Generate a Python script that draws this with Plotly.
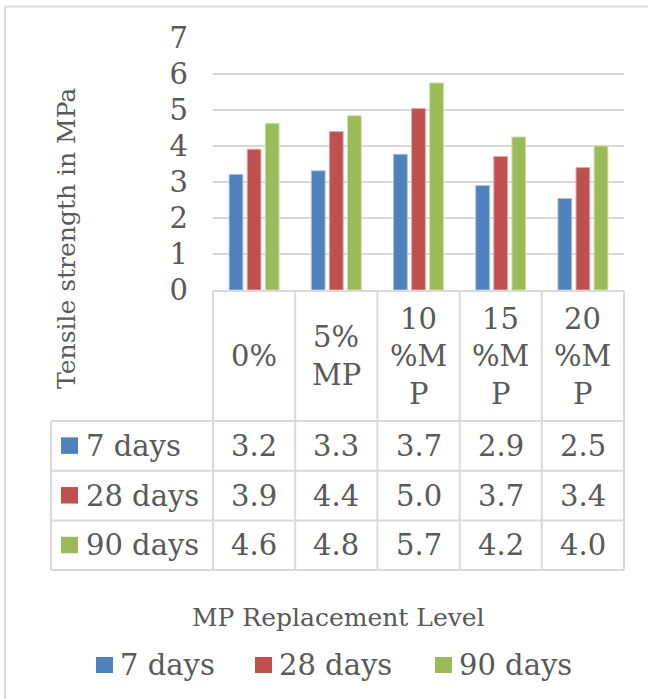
import plotly.graph_objects as go

# ---------------- data ----------------
categories = ["0%", "5% MP", "10 %MP", "15 %MP", "20 %MP"]
header_lines = [["0%"], ["5%", "MP"], ["10", "%M", "P"], ["15", "%M", "P"], ["20", "%M", "P"]]
series_names = ["7 days", "28 days", "90 days"]
days7 = [3.21, 3.31, 3.77, 2.90, 2.54]
days28 = [3.91, 4.40, 5.04, 3.71, 3.40]
days90 = [4.63, 4.84, 5.75, 4.25, 4.00]
table7 = ["3.2", "3.3", "3.7", "2.9", "2.5"]
table28 = ["3.9", "4.4", "5.0", "3.7", "3.4"]
table90 = ["4.6", "4.8", "5.7", "4.2", "4.0"]
y_ticks = [0, 1, 2, 3, 4, 5, 6, 7]
y_title = "Tensile strength in MPa"
x_title = "MP Replacement Level"

# ---------------- style ----------------
colors = ["#4F81BD", "#C0504D", "#9BBB59"]
outline = ["#A9C1DE", "#DFA8A6", "#CDDDAC"]
TXT = "#595959"
GRID = "#D9D9D9"
FONT = "DejaVu Serif"
W, H = 648, 699
PL, PR, PT, PB = 213, 624, 38, 290
TABLE_L = 51
HEAD_B = 421
ROW_H = 49.7
LINE_SP = 37.5

def px(x):
    return x / W

def py(y):
    return 1 - y / H

series_vals = [days7, days28, days90]
table_vals = [table7, table28, table90]

fig = go.Figure()
for name, vals, c, oc in zip(series_names, series_vals, colors, outline):
    fig.add_trace(go.Bar(x=categories, y=vals, name=name,
                         marker=dict(color=c, line=dict(color=oc, width=1)),
                         showlegend=False, hoverinfo="x+y+name"))

shapes = []
annotations = []
ncat = len(categories)
colw = (PR - PL) / ncat
col_x = [PL + i * colw for i in range(ncat + 1)]
row_y = [HEAD_B + i * ROW_H for i in range(len(series_names) + 1)]

def line(x0, y0, x1, y1):
    shapes.append(dict(type="line", xref="paper", yref="paper",
                       x0=px(x0), y0=py(y0), x1=px(x1), y1=py(y1),
                       line=dict(color=GRID, width=2)))

# table grid
line(PL, PB + 1, PR, PB + 1)
for yy in row_y:
    line(TABLE_L, yy, PR, yy)
for xx in col_x:
    line(xx, PB + 1, xx, row_y[-1])
line(TABLE_L, HEAD_B, TABLE_L, row_y[-1])

# header text
head_c = (PB + 1 + HEAD_B) / 2
for i, lines in enumerate(header_lines):
    cx = (col_x[i] + col_x[i + 1]) / 2
    n = len(lines)
    for j, t in enumerate(lines):
        yy = head_c + (j - (n - 1) / 2) * LINE_SP
        annotations.append(dict(x=px(cx), y=py(yy), xref="paper", yref="paper",
                                text=t, showarrow=False, xanchor="center", yanchor="middle",
                                font=dict(family=FONT, size=29, color=TXT)))

# rows
for r, (name, vals, c) in enumerate(zip(series_names, table_vals, colors)):
    cy = (row_y[r] + row_y[r + 1]) / 2
    shapes.append(dict(type="rect", xref="paper", yref="paper",
                       x0=px(61), x1=px(78), y0=py(cy - 8.5), y1=py(cy + 8),
                       fillcolor=c, line=dict(width=0)))
    annotations.append(dict(x=px(84), y=py(cy), xref="paper", yref="paper",
                            text=name, showarrow=False, xanchor="left", yanchor="middle",
                            font=dict(family=FONT, size=29, color=TXT)))
    for i, v in enumerate(vals):
        cx = (col_x[i] + col_x[i + 1]) / 2
        annotations.append(dict(x=px(cx), y=py(cy), xref="paper", yref="paper",
                                text=v, showarrow=False, xanchor="center", yanchor="middle",
                                font=dict(family=FONT, size=29, color=TXT)))

# axis titles
annotations.append(dict(x=px(66), y=py(239), xref="paper", yref="paper", text=y_title,
                        textangle=-90, showarrow=False, xanchor="center", yanchor="middle",
                        font=dict(family=FONT, size=25, color=TXT)))
annotations.append(dict(x=px(338), y=py(617), xref="paper", yref="paper", text=x_title,
                        showarrow=False, xanchor="center", yanchor="middle",
                        font=dict(family=FONT, size=25, color=TXT)))

# legend
legend_x = [96, 255, 435]
leg_y = 665
for name, c, lx in zip(series_names, colors, legend_x):
    shapes.append(dict(type="rect", xref="paper", yref="paper",
                       x0=px(lx), x1=px(lx + 17), y0=py(leg_y - 8), y1=py(leg_y + 8),
                       fillcolor=c, line=dict(width=0)))
    annotations.append(dict(x=px(lx + 22), y=py(leg_y), xref="paper", yref="paper",
                            text=name, showarrow=False, xanchor="left", yanchor="middle",
                            font=dict(family=FONT, size=29, color=TXT)))

# outer chart border (partial, as cropped)
shapes.append(dict(type="line", xref="paper", yref="paper", x0=px(5), y0=py(6.5),
                   x1=px(W + 2), y1=py(6.5), line=dict(color=GRID, width=2)))
shapes.append(dict(type="line", xref="paper", yref="paper", x0=px(5), y0=py(6.5),
                   x1=px(5), y1=py(H + 2), line=dict(color=GRID, width=2)))

fig.update_layout(
    width=W, height=H,
    margin=dict(l=0, r=0, t=0, b=0, pad=0, autoexpand=False),
    paper_bgcolor="white", plot_bgcolor="white",
    barmode="group", bargap=0.34, bargroupgap=0.24,
    showlegend=False,
    xaxis=dict(domain=[px(PL), px(PR)], showticklabels=False, showgrid=False,
               zeroline=False, showline=False, ticks="", automargin=False),
    yaxis=dict(domain=[py(PB), py(PT)], range=[0, 7], tickvals=y_ticks,
               showgrid=True, gridcolor=GRID, gridwidth=1.5, zeroline=False,
               showline=False, ticks="", ticklabelstandoff=24, automargin=False,
               tickfont=dict(family=FONT, size=29, color=TXT)),
    shapes=shapes, annotations=annotations,
)

fig.write_html("out.html",
               config={"displayModeBar": False},
               post_script="document.body.style.margin='0px';document.body.style.overflow='hidden';")
